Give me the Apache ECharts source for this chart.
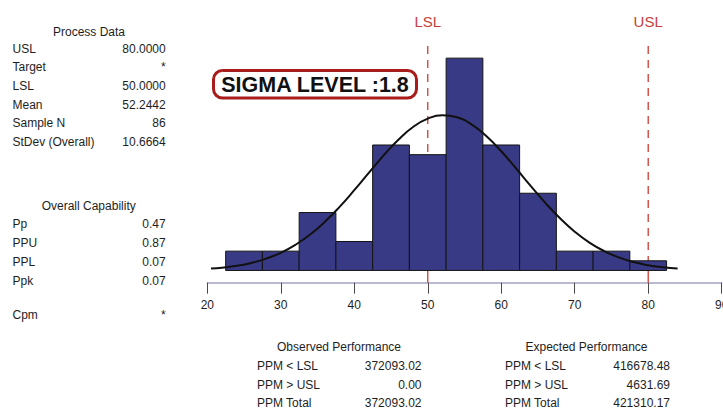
<!DOCTYPE html>
<html>
<head>
<meta charset="utf-8">
<title>Process Capability</title>
<script src="https://cdn.jsdelivr.net/npm/echarts@6/dist/echarts.min.js"></script>
<style>
  html, body { margin: 0; padding: 0; background: #ffffff; }
  #chart { width: 723px; height: 409px; }
</style>
</head>
<body>
<div id="chart"></div>
<script>
// Histogram bins (width 5) and their counts
const binStarts = [22.5, 27.5, 32.5, 37.5, 42.5, 47.5, 52.5, 57.5, 62.5, 67.5, 72.5, 77.5];
const binEnds   = [27.5, 32.5, 37.5, 42.5, 47.5, 52.5, 57.5, 62.5, 67.5, 72.5, 77.5, 82.5];
const binCounts = [2, 2, 6, 3, 13, 12, 22, 13, 8, 2, 2, 1];

// Overall fitted curve, in count units
const curveX = [20.5, 22, 24, 26, 28, 30, 32, 34, 36, 38, 40, 42, 44, 46, 48, 50, 52,
                54, 56, 58, 60, 62, 64, 66, 68, 70, 72, 74, 76, 78, 80, 82, 84];
const curveY = [0.19, 0.29, 0.48, 0.78, 1.22, 1.83, 2.66, 3.72, 5.04, 6.59, 8.32, 10.14, 11.93,
                13.55, 14.86, 15.73, 16.08, 15.87, 15.12, 13.90, 12.35, 10.59, 8.76, 7.00,
                5.40, 4.02, 2.89, 2.01, 1.35, 0.87, 0.54, 0.33, 0.19];

// Specification limits
const limitNames  = ['LSL', 'USL'];
const limitValues = [50, 80];

// X axis ticks
const xMin = 20, xMax = 90, xStep = 10;

// Side tables
const processTitle  = 'Process Data';
const processLabels = ['USL', 'Target', 'LSL', 'Mean', 'Sample N', 'StDev (Overall)'];
const processValues = ['80.0000', '*', '50.0000', '52.2442', '86', '10.6664'];

const capabilityTitle  = 'Overall Capability';
const capabilityLabels = ['Pp', 'PPU', 'PPL', 'Ppk', 'Cpm'];
const capabilityValues = ['0.47', '0.87', '0.07', '0.07', '*'];

const observedTitle  = 'Observed Performance';
const expectedTitle  = 'Expected Performance';
const ppmLabels      = ['PPM < LSL', 'PPM > USL', 'PPM Total'];
const observedValues = ['372093.02', '0.00', '372093.02'];
const expectedValues = ['416678.48', '4631.69', '421310.17'];

const sigmaText = 'SIGMA LEVEL :1.8';

// ---- drawing ----
const FONT = "'Liberation Sans', Arial, sans-serif";
const TEXT_COLOR = '#1e1e1e';
const LIMIT_COLOR = '#d13a33';
const limitLineTop = 23.25;   // top of the limit lines, in count units
const yMin = -1.27, yMax = 25;

const chart = echarts.init(document.getElementById('chart'), null, { renderer: 'svg' });

const binData = binStarts.map((s, i) => [s, binEnds[i], binCounts[i]]);
const curveData = curveX.map((x, i) => [x, curveY[i]]);

const limitSeries = [];
limitValues.forEach((v, i) => {
  limitSeries.push({
    type: 'line', name: limitNames[i] + ' dash', z: 1, silent: true,
    symbol: 'none', animation: false,
    data: [[v, limitLineTop], [v, 0]],
    lineStyle: { color: LIMIT_COLOR, width: 1.3, type: [8, 6] }
  });
  limitSeries.push({
    type: 'line', name: limitNames[i] + ' base', z: 1, silent: true,
    symbol: 'none', animation: false,
    data: [[v, 0], [v, yMin]],
    lineStyle: { color: LIMIT_COLOR, width: 1.3 }
  });
});

chart.setOption({
  animation: false,
  grid: {
    left: 207.3, right: 1.3, top: 29.2, bottom: 126.3,
    containLabel: false, outerBoundsMode: 'none'
  },
  xAxis: {
    type: 'value', min: xMin, max: xMax, interval: xStep,
    axisLine: { show: true, onZero: false, lineStyle: { color: '#a2a2c4', width: 1.5 } },
    axisTick: { show: true, length: 11, lineStyle: { color: '#4a4a4a', width: 1 } },
    axisLabel: { color: TEXT_COLOR, fontFamily: FONT, fontSize: 12, margin: 16 },
    splitLine: { show: false }
  },
  yAxis: {
    type: 'value', min: yMin, max: yMax, show: false,
    splitLine: { show: false }
  },
  series: [
    ...limitSeries,
    {
      type: 'custom', name: 'Histogram', z: 2,
      encode: { x: [0, 1], y: 2 },
      data: binData,
      renderItem: function (params, api) {
        const top = api.coord([api.value(0), api.value(2)]);
        const base = api.coord([api.value(1), 0]);
        return {
          type: 'rect',
          shape: { x: top[0], y: top[1], width: base[0] - top[0], height: base[1] - top[1] },
          style: { fill: '#383a86', stroke: '#141414', lineWidth: 1 }
        };
      }
    },
    {
      type: 'line', name: 'Overall', z: 3,
      data: curveData, smooth: true, symbol: 'none',
      lineStyle: { color: '#111111', width: 2 }
    }
  ]
});

// ---- text panels ----
function txt(x, y, text, align, extra) {
  return {
    type: 'text', x: x, y: y, silent: true,
    style: Object.assign({
      text: text, font: '12px ' + FONT, fill: TEXT_COLOR,
      align: align, textAlign: align, verticalAlign: 'middle', textVerticalAlign: 'middle'
    }, extra || {})
  };
}

const g = [];

// Process data block
g.push(txt(89, 31.5, processTitle, 'center'));
const processRows = [48.5, 67.2, 86, 104.5, 123.2, 142.2];
processLabels.forEach((l, i) => {
  g.push(txt(12.5, processRows[i], l, 'left'));
  g.push(txt(165.7, processRows[i], processValues[i], 'right'));
});

// Overall capability block
g.push(txt(88.7, 206, capabilityTitle, 'center'));
const capRows = [224, 242.8, 261.5, 280.5, 315];
capabilityLabels.forEach((l, i) => {
  g.push(txt(12.5, capRows[i], l, 'left'));
  g.push(txt(165.7, capRows[i], capabilityValues[i], 'right'));
});

// Performance tables
const perfRows = [365.5, 384.5, 403.3];
g.push(txt(339, 346.5, observedTitle, 'center'));
g.push(txt(586.5, 346.5, expectedTitle, 'center'));
ppmLabels.forEach((l, i) => {
  g.push(txt(257, perfRows[i], l, 'left'));
  g.push(txt(421.5, perfRows[i], observedValues[i], 'right'));
  g.push(txt(505, perfRows[i], l, 'left'));
  g.push(txt(670, perfRows[i], expectedValues[i], 'right'));
});

// Limit labels above their lines
limitValues.forEach((v, i) => {
  const p = chart.convertToPixel({ gridIndex: 0 }, [v, limitLineTop]);
  g.push(txt(p[0], p[1] - 24.5, limitNames[i], 'center', {
    font: '15px ' + FONT, fill: '#c8403a'
  }));
});

// Sigma level badge
g.push({
  type: 'rect', silent: true,
  shape: { x: 213.5, y: 70.5, width: 203, height: 27.5, r: 9 },
  style: { fill: '#ffffff', stroke: '#a81c1c', lineWidth: 3 }
});
g.push(txt(315, 84.6, sigmaText, 'center', {
  font: 'bold 21.5px ' + FONT, fill: '#111111'
}));

chart.setOption({ graphic: { elements: g } });
</script>
</body>
</html>
